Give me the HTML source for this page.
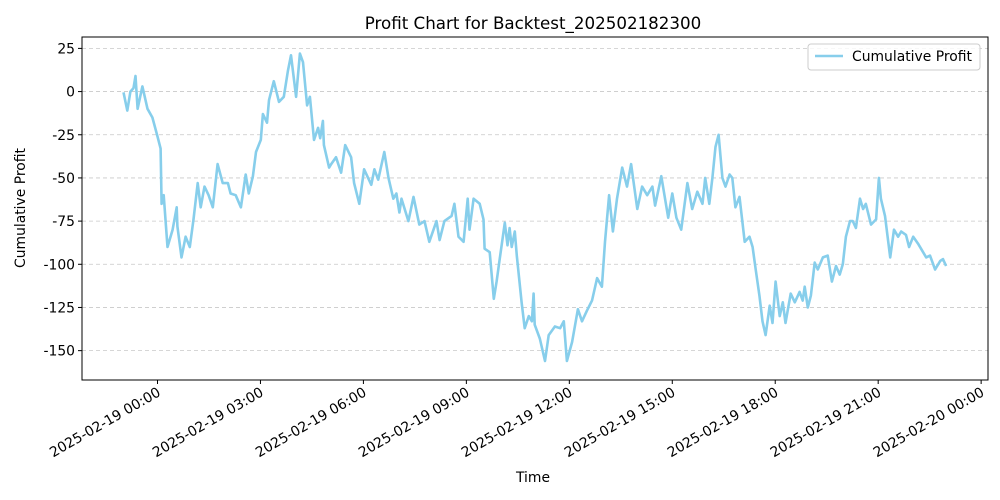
<!DOCTYPE html>
<html><head><meta charset="utf-8"><style>
body{margin:0;background:#fff;}
svg{display:block;font-family:"DejaVu Sans","Liberation Sans",sans-serif;}
</style></head><body>
<svg id="chart" width="1000" height="500" viewBox="0 0 1000 500" xmlns="http://www.w3.org/2000/svg">
<rect width="1000" height="500" fill="#fff"/>
<text x="533" y="29" text-anchor="middle" font-size="16.7">Profit Chart for Backtest_202502182300</text>
<g id="grid"></g>
<g id="series"></g>
<rect x="82" y="37" width="906" height="343" fill="none" stroke="#000" stroke-width="1"/>
<g id="yaxis"></g>
<g id="xaxis"></g>
<text x="533" y="482" text-anchor="middle" font-size="13.9">Time</text>
<text transform="translate(25,208) rotate(-90)" text-anchor="middle" font-size="13.9">Cumulative Profit</text>
<g>
<rect x="808" y="44" width="172" height="26" rx="3" fill="#fff" fill-opacity="0.8" stroke="#ccc"/>
<line x1="815" y1="56" x2="843" y2="56" stroke="#87ceeb" stroke-width="2.5"/>
<text x="852" y="61" font-size="13.9">Cumulative Profit</text>
</g>
</svg>
<script>
const hours=[-0.99,-0.88,-0.79,-0.70,-0.64,-0.58,-0.44,-0.29,-0.15,0,0.09,0.12,0.18,0.29,0.44,0.56,0.58,0.70,0.82,0.94,1.05,1.17,1.26,1.37,1.49,1.61,1.75,1.90,2.05,2.13,2.28,2.43,2.57,2.66,2.78,2.87,3.01,3.07,3.19,3.25,3.39,3.54,3.68,3.80,3.89,4.04,4.15,4.24,4.36,4.44,4.56,4.68,4.74,4.82,4.85,5.00,5.06,5.20,5.35,5.47,5.64,5.73,5.88,6.02,6.23,6.32,6.43,6.61,6.73,6.87,6.96,7.05,7.11,7.31,7.46,7.63,7.78,7.92,8.13,8.22,8.36,8.57,8.65,8.77,8.92,9.04,9.09,9.21,9.39,9.50,9.53,9.68,9.80,9.88,9.97,10.12,10.20,10.26,10.32,10.41,10.47,10.61,10.70,10.82,10.91,10.96,10.99,11.14,11.29,11.40,11.58,11.73,11.84,11.93,12.08,12.25,12.37,12.51,12.66,12.81,12.95,13.04,13.16,13.27,13.39,13.54,13.68,13.80,13.98,14.12,14.27,14.42,14.50,14.68,14.88,15.00,15.12,15.26,15.44,15.58,15.73,15.88,15.96,16.08,16.17,16.26,16.35,16.46,16.55,16.67,16.75,16.84,16.96,17.11,17.25,17.34,17.43,17.54,17.63,17.72,17.84,17.92,18.01,18.13,18.22,18.30,18.45,18.57,18.71,18.80,18.86,18.95,19.04,19.15,19.24,19.39,19.53,19.65,19.77,19.88,19.97,20.06,20.18,20.26,20.35,20.47,20.56,20.64,20.79,20.94,21.02,21.08,21.20,21.35,21.46,21.58,21.67,21.81,21.90,22.02,22.16,22.31,22.40,22.51,22.66,22.81,22.89,22.98];
const profit=[-0.5,-11,0,2,9,-10,3,-10,-15,-26,-33,-65,-60,-90,-80,-67,-78,-96,-84,-90,-74,-53,-67,-55,-60,-67,-42,-53,-53,-59,-60,-67,-48,-59,-49,-35,-28,-13,-18,-5,6,-6,-3,12,21,-3,22,17,-8,-3,-28,-21,-27,-17,-31,-44,-42,-38,-47,-31,-38,-53,-65,-45,-54,-45,-51,-35,-50,-62,-59,-70,-62,-75,-61,-77,-75,-87,-75,-86,-75,-72,-65,-84,-87,-62,-80,-62,-65,-74,-91,-93,-120,-110,-97,-76,-89,-79,-90,-81,-95,-122,-137,-130,-133,-117,-135,-143,-156,-141,-136,-137,-133,-156,-145,-126,-133,-127,-121,-108,-113,-87,-60,-81,-62,-44,-55,-42,-68,-55,-60,-55,-66,-49,-73,-59,-73,-80,-53,-68,-58,-65,-50,-65,-50,-32,-25,-50,-55,-48,-50,-67,-61,-87,-84,-90,-103,-118,-133,-141,-124,-134,-110,-130,-122,-134,-117,-122,-116,-121,-113,-125,-118,-99,-103,-96,-95,-110,-101,-106,-100,-84,-75,-75,-79,-62,-68,-65,-77,-74,-50,-62,-72,-96,-80,-84,-81,-83,-90,-84,-88,-93,-96,-95,-103,-98,-97,-101];
const yTicks=[25,0,-25,-50,-75,-100,-125,-150];
const xTickHours=[0,3,6,9,12,15,18,21,24];
const xTickLabels=["2025-02-19 00:00","2025-02-19 03:00","2025-02-19 06:00","2025-02-19 09:00","2025-02-19 12:00","2025-02-19 15:00","2025-02-19 18:00","2025-02-19 21:00","2025-02-20 00:00"];
const NS="http://www.w3.org/2000/svg";
const L=82,R=988,T=37,B=380,xMin=-2.2,xMax=24.2,yMin=-167,yMax=31.6;
const sx=h=>L+(h-xMin)/(xMax-xMin)*(R-L);
const sy=v=>T+(yMax-v)/(yMax-yMin)*(B-T);
function mk(tag,attrs,parent){const e=document.createElementNS(NS,tag);for(const k in attrs)e.setAttribute(k,attrs[k]);parent.appendChild(e);return e;}
const grid=document.getElementById('grid'),ya=document.getElementById('yaxis'),xa=document.getElementById('xaxis');
yTicks.forEach(v=>{const y=sy(v);
const g=mk('line',{x1:L,x2:R,y1:y,y2:y,stroke:'#b0b0b0','stroke-width':0.8,'stroke-dasharray':'4,3','stroke-opacity':0.7},grid);


const t=mk('line',{x1:L-4,x2:L,y1:y,y2:y,stroke:'#000'},ya);


const tx=mk('text',{x:L-7,y:y+5,'text-anchor':'end','font-size':13.9},ya);


tx.textContent=v;});
xTickHours.forEach((h,i)=>{const x=sx(h);
const t=mk('line',{x1:x,x2:x,y1:B,y2:B+4,stroke:'#000'},xa);


const tx=mk('text',{x:x+4,y:B+15,'text-anchor':'end','font-size':13.9,transform:`rotate(-30 ${x+4} ${B+15})`},xa);


tx.textContent=xTickLabels[i];});
const d=hours.map((h,i)=>(i?'L':'M')+sx(h).toFixed(1)+','+sy(profit[i]).toFixed(1)).join(' ');
const p=mk('path',{d:d,fill:'none',stroke:'#87ceeb','stroke-width':2.6,'stroke-linejoin':'round'},document.getElementById('series'));


</script>
</body></html>
